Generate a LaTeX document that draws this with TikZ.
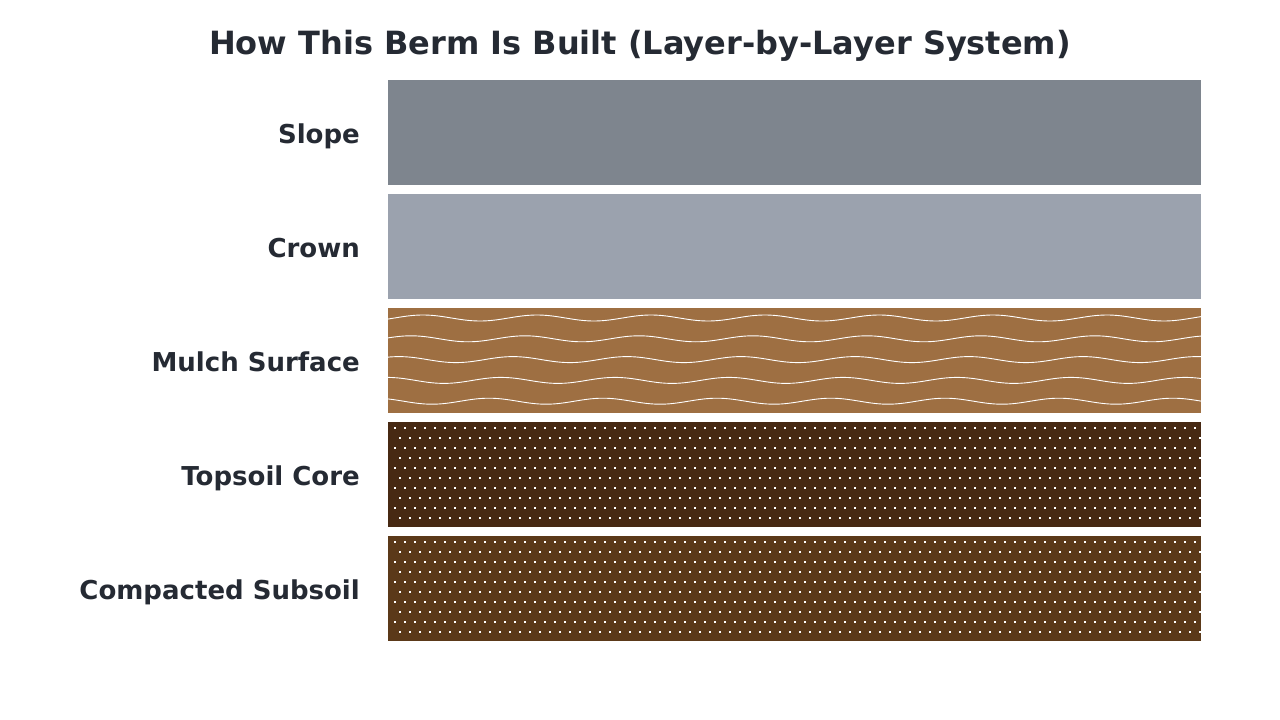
\documentclass[tikz,border=0pt]{standalone}
\usepackage{fontspec}
\setmainfont{DejaVu Sans}
\definecolor{txt}{HTML}{252A33}
\definecolor{slopec}{HTML}{7E858E}
\definecolor{crownc}{HTML}{9BA2AE}
\definecolor{mulchc}{HTML}{9E6F42}
\definecolor{topc}{HTML}{472913}
\definecolor{subc}{HTML}{5B3919}
\tikzset{
  layer/.style={draw=none},
  lab/.style={anchor=base east, text=txt, font=\fontsize{26bp}{30bp}\selectfont\bfseries, inner sep=0pt},
  ttl/.style={anchor=base, text=txt, font=\fontsize{32bp}{38bp}\selectfont\bfseries, inner sep=0pt},
  dot/.style={fill=white, draw=none},
  wave/.style={draw=white, line width=0.9bp}
}
\begin{document}
\begin{tikzpicture}[x=1bp,y=-1bp]
\useasboundingbox[fill=white] (0,0) rectangle (1280,720);
\node[ttl] (title) at (640,55) {How This Berm Is Built (Layer-by-Layer System)};
% layers
\fill[slopec] (388,80) rectangle (1201,185);
\fill[crownc] (388,194) rectangle (1201,299);
\fill[mulchc] (388,308) rectangle (1201,413);
\fill[topc] (388,422) rectangle (1201,527);
\fill[subc] (388,536) rectangle (1201,641);
% mulch waves
\begin{scope}
\clip (388,308) rectangle (1201,413);
\foreach \k in {0,...,4}{
  \pgfmathsetmacro{\base}{318+20.8*\k}
  \pgfmathsetmacro{\cc}{423-12*\k}
  \draw[wave] plot[domain=386:1203, samples=220, smooth] (\x,{\base-3*cos(((\x-\cc)/114)*360)});
}
\end{scope}
% dots
\foreach \top in {422,536}{
  \begin{scope}
  \clip (388,\top) rectangle (1201,\top+105);
  \foreach \r in {0,...,9}{
    \pgfmathsetmacro{\yy}{\top+6+10*\r}
    \pgfmathsetmacro{\xo}{394.5+5*mod(\r,2)}
    \foreach \c in {0,...,81}{
      \fill[dot] (\xo+10*\c-1,\yy-1) rectangle ++(2,2);
    }
  }
  \end{scope}
}
% labels
\node[lab] (l1) at (360,143.5) {Slope};
\node[lab] (l2) at (360,257.5) {Crown};
\node[lab] (l3) at (360,371.5) {Mulch Surface};
\node[lab] (l4) at (360,485.5) {Topsoil Core};
\node[lab] (l5) at (360,599.5) {Compacted Subsoil};
\end{tikzpicture}
\end{document}
